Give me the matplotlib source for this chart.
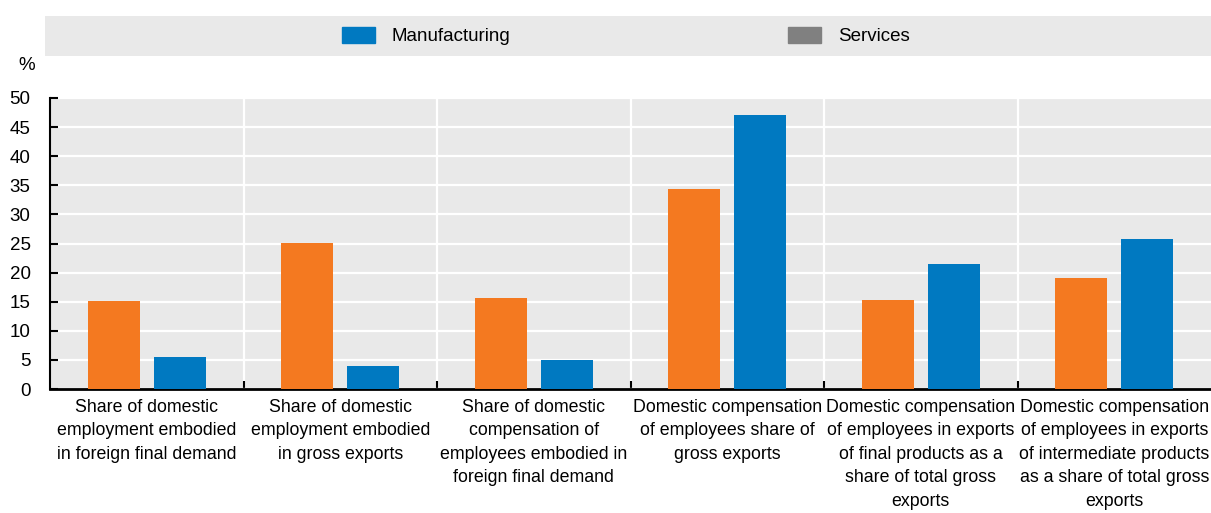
import matplotlib
matplotlib.use("Agg")
import matplotlib.pyplot as plt
import matplotlib.patches as mpatches
import numpy as np

plt.rcParams['font.family'] = ['Liberation Sans', 'DejaVu Sans']

categories = [
    "Share of domestic\nemployment embodied\nin foreign final demand",
    "Share of domestic\nemployment embodied\nin gross exports",
    "Share of domestic\ncompensation of\nemployees embodied in\nforeign final demand",
    "Domestic compensation\nof employees share of\ngross exports",
    "Domestic compensation\nof employees in exports\nof final products as a\nshare of total gross\nexports",
    "Domestic compensation\nof employees in exports\nof intermediate products\nas a share of total gross\nexports",
]
series_orange = [15.1, 25.1, 15.7, 34.4, 15.3, 19.0]
series_blue = [5.5, 3.9, 5.0, 47.1, 21.4, 25.8]
legend_labels = ["Manufacturing", "Services"]
yticks = [0, 5, 10, 15, 20, 25, 30, 35, 40, 45, 50]

ORANGE = "#f47920"
BLUE = "#0079c1"
GREY = "#808080"
BG = "#e9e9e9"

fig = plt.figure(figsize=(12.11, 5.13), dpi=100)
ax = fig.add_axes([50/1211, 1-389/513, 1-50/1211, (389-98)/513])
ax.set_facecolor(BG)

x = np.arange(len(categories))
w = 0.27
off = 0.17
ax.bar(x - off, series_orange, w, color=ORANGE, zorder=3)
ax.bar(x + off, series_blue, w, color=BLUE, zorder=3)

ax.set_xlim(-0.5, len(categories) - 0.5)
ax.set_ylim(0, 50)
ax.set_yticks(yticks)
ax.set_yticklabels([str(v) for v in yticks], fontsize=13.5)
ax.yaxis.grid(True, color="white", linewidth=1.6, zorder=1)
for b in np.arange(0.5, len(categories) - 0.5, 1):
    ax.axvline(b, color="white", linewidth=1.6, zorder=1)

ax.set_xticks(x)
ax.set_xticklabels(categories, fontsize=12.8, linespacing=1.5)
ax.tick_params(axis='x', length=0, pad=7)
ax.set_xticks(np.arange(0.5, len(categories) - 0.5, 1), minor=True)
ax.tick_params(axis='x', which='minor', direction='in', length=6, width=1.5, color='black')
ax.tick_params(axis='y', direction='in', length=6, width=1.5, pad=14, color='black')

for s in ['top', 'right']:
    ax.spines[s].set_visible(False)
ax.spines['left'].set_linewidth(1.5)
ax.spines['bottom'].set_linewidth(2)

fig.text(27/1211, 1-66/513, "%", fontsize=13.5, ha='center', va='center')

# legend band
band = mpatches.Rectangle((45/1211, 1-56/513), 1-45/1211, 40/513,
                          transform=fig.transFigure, facecolor=BG, edgecolor='none', zorder=0)
fig.patches.append(band)
colors = [BLUE, GREY]
xpos = [342, 788]
for lab, c, xp in zip(legend_labels, colors, xpos):
    leg = fig.legend([mpatches.Patch(color=c)], [lab], loc='center left',
                     bbox_to_anchor=(xp/1211, 1-36/513), borderaxespad=0, borderpad=0,
                     frameon=False, fontsize=13.5, handlelength=1.75, handleheight=0.95,
                     handletextpad=0.9)

fig.savefig("out.png", dpi=100)
